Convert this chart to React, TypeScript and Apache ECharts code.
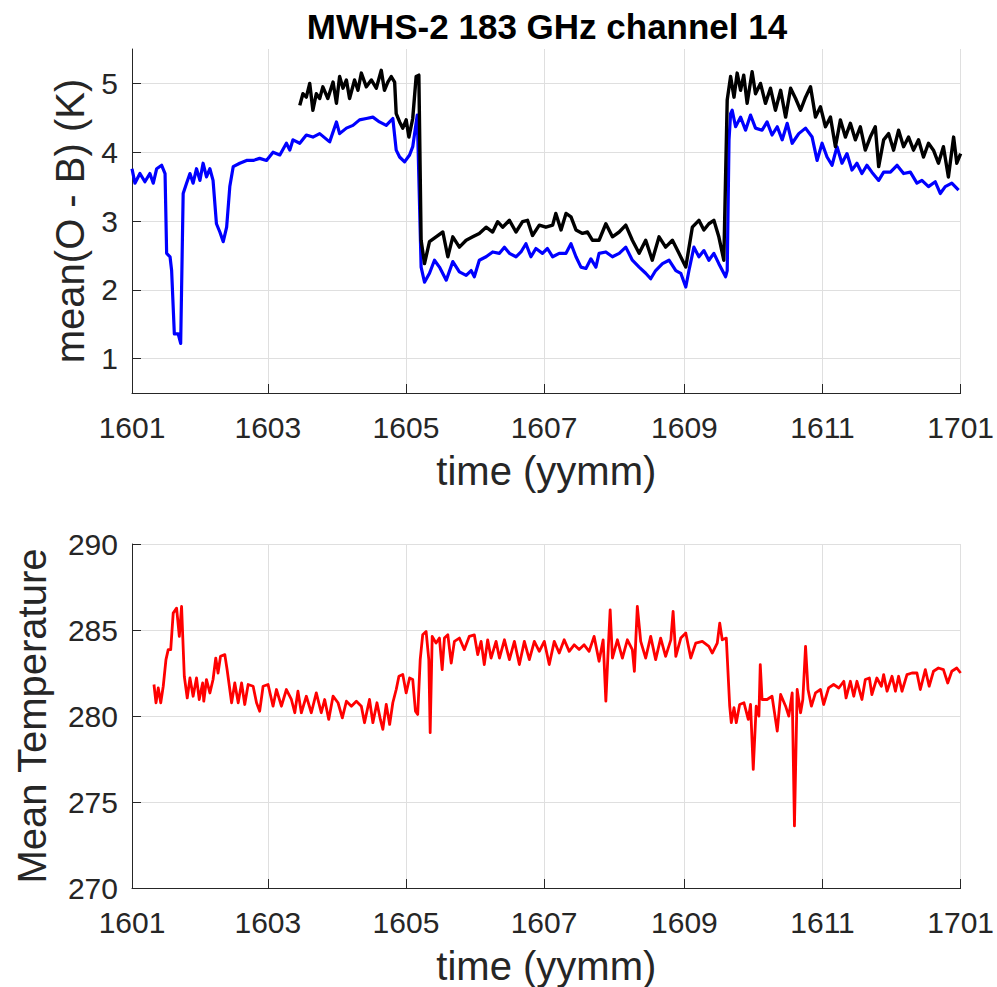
import React, { useEffect, useRef } from "react";
import * as echarts from "echarts";

// x positions are days since 2016-01-01
const tickDays = [0, 60, 121, 182, 244, 305, 366];
const tickLabels = ["1601", "1603", "1605", "1607", "1609", "1611", "1701"];
const obTicks = [1, 2, 3, 4, 5];

const blueSeries: number[][] = [
  [0, 3.76], [1.3, 3.55], [3.5, 3.69], [5.7, 3.57], [7.9, 3.69], [9.4, 3.55], [10.9, 3.76], [13.1, 3.81],
  [14.6, 3.69], [15.3, 2.53], [16.8, 2.48], [17.5, 2.28], [18.7, 1.36], [20.4, 1.36], [21.5, 1.22], [22.6, 3.4],
  [24.1, 3.55], [25.6, 3.69], [27.0, 3.55], [28.5, 3.76], [30.0, 3.59], [31.4, 3.84], [32.9, 3.64], [34.4, 3.76],
  [35.8, 3.59], [37.3, 2.96], [38.8, 2.84], [40.3, 2.7], [41.8, 2.91], [43.2, 3.5], [44.7, 3.79], [47.6, 3.84],
  [50.6, 3.88], [53.5, 3.88], [56.4, 3.91], [59.4, 3.88], [62.3, 4.0], [65.3, 3.96], [68.2, 4.13], [69.7, 4.03],
  [71.1, 4.18], [74.1, 4.13], [77.0, 4.25], [79.9, 4.22], [82.9, 4.27], [87.3, 4.15], [90.3, 4.44], [91.7, 4.27],
  [94.7, 4.35], [97.6, 4.39], [100.5, 4.47], [103.5, 4.49], [106.4, 4.51], [109.3, 4.44], [112.3, 4.39], [115.2, 4.49],
  [116.7, 4.03], [118.2, 3.93], [120.4, 3.86], [122.6, 3.96], [124.0, 4.08], [126.0, 4.54], [127.7, 2.33], [129.2, 2.11],
  [131.4, 2.24], [133.6, 2.43], [135.8, 2.33], [138.8, 2.14], [141.7, 2.41], [144.6, 2.26], [147.6, 2.21], [149.8, 2.28],
  [151.2, 2.19], [153.4, 2.43], [156.4, 2.48], [159.3, 2.55], [162.3, 2.53], [164.5, 2.62], [166.7, 2.53], [169.6, 2.48],
  [171.8, 2.55], [174.0, 2.67], [176.2, 2.48], [178.4, 2.6], [181.3, 2.53], [183.5, 2.6], [185.8, 2.48], [188.7, 2.53],
  [191.7, 2.53], [193.9, 2.67], [196.1, 2.48], [198.3, 2.33], [200.5, 2.31], [202.7, 2.45], [204.9, 2.33], [206.3, 2.53],
  [209.3, 2.55], [212.2, 2.48], [215.2, 2.53], [218.1, 2.62], [221.0, 2.43], [224.0, 2.33], [226.9, 2.24], [229.1, 2.16],
  [231.3, 2.28], [234.3, 2.38], [237.2, 2.43], [240.2, 2.28], [242.4, 2.24], [244.6, 2.04], [246.0, 2.28], [248.2, 2.62],
  [250.4, 2.48], [252.6, 2.57], [254.8, 2.43], [257.0, 2.53], [259.2, 2.38], [261.4, 2.24], [262.2, 2.19], [262.9, 2.28],
  [263.7, 4.18], [264.4, 4.56], [265.1, 4.61], [266.6, 4.37], [268.8, 4.51], [271.0, 4.32], [273.2, 4.54], [275.4, 4.35],
  [278.3, 4.32], [280.5, 4.44], [282.7, 4.25], [285.0, 4.37], [287.2, 4.18], [289.4, 4.42], [291.6, 4.13], [294.5, 4.27],
  [297.5, 4.35], [300.4, 4.22], [302.6, 3.88], [304.8, 4.13], [307.0, 3.93], [309.2, 3.81], [311.4, 4.08], [313.6, 3.84],
  [315.8, 3.98], [318.0, 3.74], [320.2, 3.84], [322.4, 3.69], [324.6, 3.81], [326.8, 3.71], [329.8, 3.59], [332.0, 3.71],
  [335.0, 3.71], [337.9, 3.81], [340.8, 3.69], [343.8, 3.71], [346.7, 3.55], [348.9, 3.59], [351.8, 3.5], [354.8, 3.57],
  [357.0, 3.4], [359.2, 3.5], [362.1, 3.55], [365.1, 3.45],
];

const blackSeries: number[][] = [
  [74.1, 4.68], [75.5, 4.85], [77.0, 4.8], [78.5, 5.0], [79.9, 4.61], [81.4, 4.85], [82.9, 4.78], [84.3, 4.95],
  [86.5, 4.78], [88.8, 5.02], [90.3, 4.71], [91.7, 5.1], [93.2, 4.93], [94.7, 5.05], [96.1, 4.78], [98.3, 5.05],
  [99.8, 4.9], [101.3, 5.15], [103.5, 4.95], [105.7, 5.05], [107.9, 4.93], [110.1, 5.19], [111.5, 4.9], [113.0, 5.02],
  [114.5, 5.1], [116.0, 5.02], [116.7, 4.56], [118.2, 4.44], [119.6, 4.35], [121.1, 4.47], [122.3, 4.22], [124.0, 4.49],
  [125.5, 5.1], [126.7, 5.12], [127.7, 2.72], [129.2, 2.38], [131.4, 2.7], [134.3, 2.77], [137.3, 2.84], [139.5, 2.48],
  [141.7, 2.77], [144.6, 2.62], [147.6, 2.72], [150.5, 2.77], [153.4, 2.82], [156.4, 2.91], [159.3, 2.84], [161.5, 2.99],
  [163.7, 2.91], [166.7, 3.01], [169.6, 2.84], [172.5, 2.99], [174.7, 3.01], [176.9, 2.79], [179.9, 2.94], [182.8, 2.91],
  [185.8, 2.94], [187.2, 3.11], [189.5, 2.87], [191.7, 3.11], [193.9, 3.06], [196.1, 2.87], [199.0, 2.82], [201.2, 2.84],
  [203.4, 2.72], [206.3, 2.72], [209.3, 2.96], [212.2, 2.77], [215.2, 2.84], [218.1, 2.94], [221.0, 2.72], [224.0, 2.53],
  [226.9, 2.72], [229.8, 2.43], [232.8, 2.77], [235.7, 2.62], [238.7, 2.72], [241.6, 2.53], [244.6, 2.33], [247.5, 2.91],
  [250.4, 3.01], [252.6, 2.87], [254.8, 2.96], [257.0, 3.01], [259.2, 2.77], [261.4, 2.43], [262.9, 4.76], [264.4, 5.1],
  [265.9, 4.8], [267.3, 5.15], [268.8, 4.9], [270.2, 5.12], [271.7, 4.71], [273.9, 5.17], [275.4, 4.85], [277.6, 5.0],
  [279.8, 4.71], [282.0, 4.93], [284.2, 4.61], [286.5, 4.9], [288.7, 4.51], [290.9, 4.93], [293.1, 4.78], [295.3, 4.61],
  [297.5, 4.8], [299.7, 4.95], [301.9, 4.51], [304.1, 4.66], [306.3, 4.37], [308.5, 4.51], [310.7, 4.08], [312.9, 4.47],
  [315.1, 4.22], [317.3, 4.42], [319.5, 4.18], [321.7, 4.37], [323.9, 4.03], [326.1, 4.22], [328.3, 4.37], [329.8, 3.79],
  [332.0, 4.18], [334.2, 4.27], [336.4, 4.03], [338.6, 4.32], [340.8, 4.08], [343.0, 4.22], [345.2, 4.03], [347.4, 4.18],
  [349.6, 3.93], [351.8, 4.13], [354.0, 4.03], [356.2, 3.84], [358.4, 4.08], [360.6, 3.64], [362.9, 4.22], [364.3, 3.84],
  [366.0, 3.98],
];

const redSeries: number[][] = [
  [9.7, 281.83], [10.6, 280.77], [11.6, 281.63], [12.7, 280.77], [13.8, 281.73], [15.0, 283.28], [16.0, 283.86], [17.1, 283.86],
  [18.2, 285.98], [19.7, 286.27], [20.9, 284.63], [21.9, 286.37], [23.1, 282.31], [24.4, 281.05], [25.6, 282.21], [27.0, 281.15],
  [28.5, 282.21], [29.7, 280.96], [31.2, 281.92], [31.7, 280.86], [32.9, 282.12], [34.4, 281.34], [35.8, 282.12], [37.0, 283.37],
  [38.0, 282.5], [39.1, 283.47], [41.0, 283.57], [42.0, 282.7], [44.0, 280.77], [45.4, 281.92], [46.9, 280.77], [48.4, 281.92],
  [49.8, 280.67], [51.3, 281.83], [53.5, 281.73], [55.0, 280.77], [56.4, 280.28], [57.9, 281.73], [60.1, 281.83], [62.3, 280.57],
  [63.8, 281.54], [66.0, 280.57], [68.2, 281.54], [70.4, 280.96], [71.9, 280.19], [73.3, 281.44], [74.8, 280.19], [77.0, 281.15],
  [79.2, 280.19], [81.4, 281.34], [83.6, 280.19], [85.1, 280.96], [86.9, 279.8], [88.8, 281.15], [91.0, 280.77], [92.9, 279.89],
  [94.7, 280.86], [96.9, 280.57], [99.1, 280.86], [101.3, 280.57], [102.7, 279.61], [104.9, 280.96], [106.4, 279.61], [108.2, 280.77],
  [109.7, 279.8], [110.8, 279.22], [112.3, 280.67], [113.8, 279.51], [115.2, 280.77], [116.7, 281.54], [117.9, 282.31], [119.6, 282.41],
  [121.1, 281.34], [122.6, 282.21], [124.0, 282.12], [125.2, 280.28], [126.2, 280.09], [127.3, 283.28], [128.4, 284.72], [129.9, 284.92],
  [131.1, 283.28], [131.7, 279.03], [132.6, 284.63], [134.3, 284.24], [135.8, 284.53], [137.0, 282.7], [138.0, 284.53], [139.5, 284.72],
  [141.0, 283.08], [142.4, 284.34], [144.6, 284.53], [146.8, 283.86], [149.0, 284.63], [151.2, 284.72], [152.7, 283.57], [154.2, 284.34],
  [155.6, 282.99], [157.1, 284.43], [158.6, 283.37], [160.8, 284.34], [162.3, 283.37], [164.5, 284.43], [166.7, 283.28], [168.9, 284.34],
  [171.1, 282.99], [173.3, 284.34], [175.5, 283.28], [177.7, 284.34], [179.9, 283.76], [182.1, 284.34], [184.3, 282.99], [186.5, 284.34],
  [188.7, 283.66], [190.9, 284.43], [193.1, 283.76], [195.3, 284.14], [197.5, 283.86], [199.7, 284.14], [201.9, 283.76], [204.1, 284.63],
  [206.3, 283.18], [208.1, 284.43], [209.3, 280.86], [210.4, 284.05], [211.2, 286.17], [212.2, 283.37], [214.4, 284.43], [216.6, 283.37],
  [218.8, 284.43], [221.0, 283.86], [221.9, 282.6], [223.2, 286.37], [224.7, 284.34], [226.9, 283.37], [229.1, 284.63], [231.3, 283.28],
  [233.5, 284.53], [235.7, 283.47], [238.0, 284.43], [239.0, 286.08], [240.2, 283.47], [242.4, 284.53], [244.6, 284.82], [246.8, 283.37],
  [249.0, 284.24], [251.9, 284.34], [254.8, 284.05], [256.3, 283.66], [258.5, 284.24], [259.6, 285.4], [260.7, 284.43], [262.5, 284.53],
  [264.0, 280.57], [264.7, 279.61], [265.9, 280.48], [266.9, 279.61], [268.4, 280.67], [270.3, 280.77], [272.2, 279.8], [273.2, 280.67],
  [274.4, 276.9], [275.7, 280.57], [276.9, 279.99], [277.5, 282.99], [278.3, 280.96], [280.5, 280.96], [282.7, 281.15], [285.0, 279.12],
  [286.5, 281.25], [288.7, 280.57], [290.1, 279.99], [291.6, 281.34], [292.6, 273.61], [293.8, 281.54], [295.3, 280.19], [296.3, 280.96],
  [297.5, 284.05], [298.6, 281.54], [300.1, 280.57], [301.9, 281.34], [304.1, 281.54], [305.5, 280.67], [307.7, 281.63], [309.9, 281.83],
  [312.2, 281.63], [314.4, 282.02], [315.4, 281.05], [317.3, 282.02], [318.8, 281.15], [320.2, 282.02], [322.4, 280.96], [323.9, 282.12],
  [325.7, 282.21], [326.8, 281.25], [329.0, 282.21], [331.0, 281.73], [332.0, 282.41], [333.5, 281.44], [335.7, 282.31], [337.2, 281.44],
  [338.6, 282.31], [340.1, 281.44], [342.3, 282.41], [344.5, 282.5], [346.7, 282.5], [348.2, 281.54], [350.4, 282.7], [352.1, 281.73],
  [354.0, 282.6], [356.2, 282.79], [358.4, 282.7], [360.3, 281.92], [362.1, 282.6], [364.3, 282.79], [366.0, 282.5],
];

const FONT = "Liberation Sans, Arial, Helvetica, sans-serif";
const AXIS_COLOR = "#262626";
const GRID_COLOR = "#dfdfdf";

function xAxisFor(gridIndex: number) {
  return {
    type: "value",
    gridIndex,
    min: 0,
    max: 366,
    name: "time (yymm)",
    nameLocation: "middle",
    nameGap: 58,
    nameTextStyle: { fontSize: 40, color: AXIS_COLOR, fontFamily: FONT },
    axisLine: { show: true, onZero: false, lineStyle: { color: AXIS_COLOR, width: 1 } },
    axisTick: { show: true, inside: true, length: 9, customValues: tickDays, lineStyle: { color: AXIS_COLOR } },
    axisLabel: {
      customValues: tickDays,
      fontSize: 30,
      color: AXIS_COLOR,
      fontFamily: FONT,
      margin: 19,
      formatter: (v: number) => tickLabels[tickDays.indexOf(Math.round(v))] ?? "",
    },
    splitLine: { show: true, lineStyle: { color: GRID_COLOR, width: 1 } },
  };
}

export default function App() {
  const ref = useRef<HTMLDivElement>(null);
  useEffect(() => {
    document.body.style.margin = "0";
    if (!ref.current) return;
    const chart = echarts.init(ref.current, null, { renderer: "svg" });
    chart.setOption({
      animation: false,
      backgroundColor: "#ffffff",
      grid: [
        { left: 132, top: 49, width: 830, height: 344 },
        { left: 132, top: 544, width: 830, height: 345 },
      ],
      xAxis: [xAxisFor(0), xAxisFor(1)],
      yAxis: [
        {
          type: "value",
          gridIndex: 0,
          min: 0.5,
          max: 5.5,
          name: "mean(O - B) (K)",
          nameLocation: "middle",
          nameGap: 40,
          nameTextStyle: { fontSize: 40, color: AXIS_COLOR, fontFamily: FONT },
          axisLine: { show: true, lineStyle: { color: AXIS_COLOR, width: 1 } },
          axisTick: { show: true, inside: true, length: 9, customValues: obTicks, lineStyle: { color: AXIS_COLOR } },
          axisLabel: { customValues: obTicks, fontSize: 30, color: AXIS_COLOR, fontFamily: FONT, margin: 14 },
          splitLine: { show: true, lineStyle: { color: GRID_COLOR, width: 1 } },
        },
        {
          type: "value",
          gridIndex: 1,
          min: 270,
          max: 290,
          interval: 5,
          name: "Mean Temperature",
          nameLocation: "middle",
          nameGap: 80,
          nameTextStyle: { fontSize: 40, color: AXIS_COLOR, fontFamily: FONT },
          axisLine: { show: true, lineStyle: { color: AXIS_COLOR, width: 1 } },
          axisTick: { show: true, inside: true, length: 9, lineStyle: { color: AXIS_COLOR } },
          axisLabel: { fontSize: 30, color: AXIS_COLOR, fontFamily: FONT, margin: 14 },
          splitLine: { show: true, lineStyle: { color: GRID_COLOR, width: 1 } },
        },
      ],
      graphic: [
        {
          type: "text",
          x: 547,
          y: 26,
          style: {
            text: "MWHS-2 183 GHz channel 14",
            fontSize: 35,
            fontWeight: "bold",
            fontFamily: FONT,
            fill: "#000000",
            align: "center",
            verticalAlign: "middle",
            textAlign: "center",
            textVerticalAlign: "middle",
          },
        },
      ],
      series: [
        {
          type: "line",
          xAxisIndex: 0,
          yAxisIndex: 0,
          data: blueSeries,
          showSymbol: false,
          lineStyle: { color: "#0000ff", width: 3.2, join: "round" },
          itemStyle: { color: "#0000ff" },
        },
        {
          type: "line",
          xAxisIndex: 0,
          yAxisIndex: 0,
          data: blackSeries,
          showSymbol: false,
          lineStyle: { color: "#000000", width: 3.4, join: "round" },
          itemStyle: { color: "#000000" },
        },
        {
          type: "line",
          xAxisIndex: 1,
          yAxisIndex: 1,
          data: redSeries,
          showSymbol: false,
          lineStyle: { color: "#ff0000", width: 2.8, join: "round" },
          itemStyle: { color: "#ff0000" },
        },
      ],
    });
    return () => chart.dispose();
  }, []);
  return <div ref={ref} style={{ position: "absolute", left: 0, top: 0, width: 997, height: 987 }} />;
}
